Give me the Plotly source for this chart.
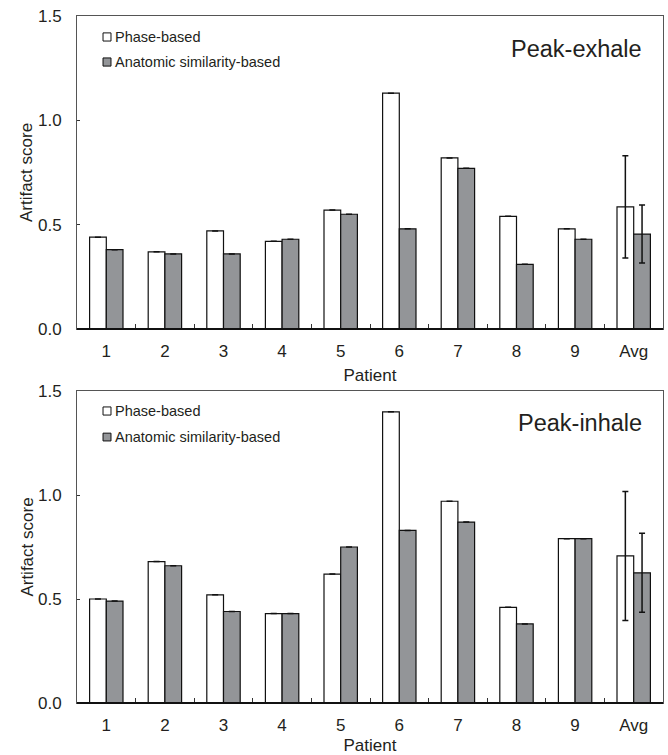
import plotly.graph_objects as go
from plotly.subplots import make_subplots

categories = ["1", "2", "3", "4", "5", "6", "7", "8", "9", "Avg"]

exhale_phase = [0.44, 0.37, 0.47, 0.42, 0.57, 1.13, 0.82, 0.54, 0.48, 0.585]
exhale_anat = [0.38, 0.36, 0.36, 0.43, 0.55, 0.48, 0.77, 0.31, 0.43, 0.455]
exhale_phase_err = [0, 0, 0, 0, 0, 0, 0, 0, 0, 0.245]
exhale_anat_err = [0, 0, 0, 0, 0, 0, 0, 0, 0, 0.139]

inhale_phase = [0.50, 0.68, 0.52, 0.43, 0.62, 1.40, 0.97, 0.46, 0.79, 0.707]
inhale_anat = [0.49, 0.66, 0.44, 0.43, 0.75, 0.83, 0.87, 0.38, 0.79, 0.626]
inhale_phase_err = [0, 0, 0, 0, 0, 0, 0, 0, 0, 0.31]
inhale_anat_err = [0, 0, 0, 0, 0, 0, 0, 0, 0, 0.19]

series_names = ["Phase-based", "Anatomic similarity-based"]
panel_titles = ["Peak-exhale", "Peak-inhale"]

FONT = "Arial, Liberation Sans, Helvetica, sans-serif"
TXT = "#231f20"
GRAY = "#939598"

fig = make_subplots(rows=2, cols=1, vertical_spacing=0.0)

panels = [
    (exhale_phase, exhale_anat, exhale_phase_err, exhale_anat_err),
    (inhale_phase, inhale_anat, inhale_phase_err, inhale_anat_err),
]
for r, (p, a, pe, ae) in enumerate(panels, start=1):
    fig.add_trace(go.Bar(
        x=categories, y=p, name=series_names[0], marker=dict(color="white", line=dict(color="#111", width=1.2)),
        error_y=dict(type="data", array=pe, visible=True, color="#111", thickness=1.5, width=3),
        showlegend=False), row=r, col=1)
    fig.add_trace(go.Bar(
        x=categories, y=a, name=series_names[1], marker=dict(color=GRAY, line=dict(color="#111", width=1.2)),
        error_y=dict(type="data", array=ae, visible=True, color="#111", thickness=1.5, width=3),
        showlegend=False), row=r, col=1)

fig.update_layout(
    width=668, height=755,
    margin=dict(l=77, r=5, t=16, b=52, autoexpand=False),
    paper_bgcolor="white", plot_bgcolor="white",
    barmode="group", bargap=0.43, bargroupgap=0.0,
    font=dict(family=FONT, size=17, color=TXT),
)

fig.update_layout(
    yaxis=dict(domain=[0.5444, 1.0]),
    yaxis2=dict(domain=[0.0, 0.4541]),
)

for r in (1, 2):
    fig.update_xaxes(row=r, col=1, type="category", tickson="boundaries", ticks="inside", ticklen=5,
                     tickcolor="#333", showline=True, mirror=True, linecolor="#555", linewidth=1,
                     showgrid=False, tickfont=dict(size=17, color=TXT), ticklabelstandoff=7,
                     title=dict(text="Patient", font=dict(size=17, color=TXT), standoff=8))
    fig.update_yaxes(row=r, col=1, range=[0, 1.5], dtick=0.5, tickformat=".1f", ticks="inside",
                     ticklen=3, tickcolor="#333",
                     showline=True, mirror=True, linecolor="#555", linewidth=1, showgrid=False,
                     zeroline=False, tickfont=dict(size=17, color=TXT), ticklabelstandoff=11,
                     title=dict(text="Artifact score", font=dict(size=17, color=TXT), standoff=0))

legend_pos = {
    1: [(0.920, 0.946), (0.840, 0.866)],
    2: [(0.923, 0.949), (0.840, 0.865)],
}
fills = ["white", GRAY]
for r in (1, 2):
    xr = "x domain" if r == 1 else "x2 domain"
    yr = "y domain" if r == 1 else "y2 domain"
    fig.add_shape(type="line", xref=xr, yref=yr, x0=0, x1=1, y0=0, y1=0,
                  line=dict(color="#111", width=2))
    for i, (y0, y1) in enumerate(legend_pos[r]):
        fig.add_shape(type="rect", xref=xr, yref=yr, x0=0.0444, x1=0.058, y0=y0, y1=y1,
                      fillcolor=fills[i], line=dict(color="#111", width=1))
        fig.add_annotation(xref=xr, yref=yr, x=0.061, y=(y0 + y1) / 2, text=series_names[i],
                           showarrow=False, xanchor="left", yanchor="middle",
                           font=dict(size=14.5, color=TXT))
    fig.add_annotation(xref=xr, yref=yr, x=0.968, y=0.893 if r == 1 else 0.899,
                       text=panel_titles[r - 1], showarrow=False, xanchor="right", yanchor="middle",
                       font=dict(size=23.5, color=TXT))

# remove the default 8px page margin so the figure fills the window exactly
fig.write_html("out.html", config={"displayModeBar": False},
               post_script="document.body.style.margin='0';document.body.style.overflow='hidden';")
